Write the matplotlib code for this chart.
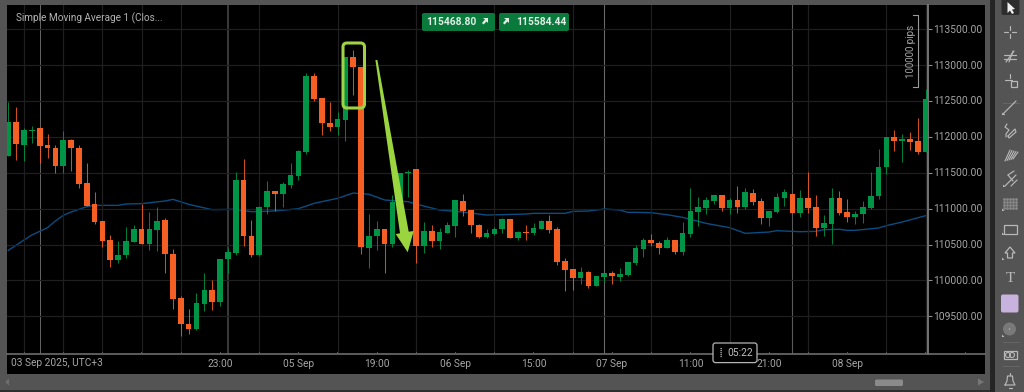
import matplotlib
matplotlib.use("Agg")
import matplotlib.pyplot as plt
from matplotlib.patches import FancyBboxPatch, Rectangle, Polygon, Circle
from matplotlib.ticker import FixedLocator, FixedFormatter
from matplotlib.transforms import ScaledTranslation

plt.rcParams['font.family'] = ['Roboto', 'DejaVu Sans']

opens = [111740,112205,111889,112084,112126,111884,111852,111601,111958,111852,
         111359,111061,110834,110559,110290,110355,110541,110713,110504,110704,
         110843,110374,109751,109397,109323,109676,109867,109695,110304,110383,
         111401,110625,110355,111024,111247,111210,111336,111461,111796,112851,
         112539,112191,112140,112237,113111,112981,110457,110615,110722,110503,
         111094,111498,111554,110480,110689,110550,110666,110759,111108,110982,
         110778,110610,110647,110712,110852,110592,110680,110666,110722,110829,
         110712,110271,110155,110034,110118,109922,110052,110108,110043,110076,
         110243,110443,110559,110522,110452,110559,110396,110648,110959,111010,
         111112,111191,111010,111117,111029,111224,111108,110866,110954,111154,
         111205,110936,111149,111019,110727,110792,111149,110950,110880,110922,
         111010,111173,111582,112005,111949,111972,111940,111796]
highs = [112493,112423,112130,112149,112126,112042,111884,112084,111968,111884,
         111633,111229,110834,110634,110545,110741,110769,111066,110950,111029,
         110876,110434,109783,109597,109825,110099,110011,110294,110448,111512,
         111689,110843,111038,111391,111247,111377,111633,111819,112888,112888,
         112539,112488,112344,113111,113213,112981,110922,110829,110722,111191,
         111503,111540,111554,110819,110768,110731,110819,111117,111205,110982,
         110782,110722,110750,110875,110852,110694,110773,110796,110843,110908,
         110740,110308,110164,110183,110127,110062,110108,110136,110173,110262,
         110494,110592,110648,110545,110601,110559,110819,111289,111159,111159,
         111191,111191,111145,111317,111284,111270,111145,110968,111215,111270,
         111205,111261,111512,111191,110908,111289,111247,111131,110968,111108,
         111512,111828,112005,112098,112042,112070,112265,112669]
lows = [111740,111680,111666,111917,111633,111712,111494,111494,111526,111285,
        111038,110792,110462,110188,110248,110308,110541,110504,110420,110406,
        110099,109597,109225,109253,109314,109579,109588,109644,110099,110360,
        110485,110332,110346,110931,110973,111024,111294,111396,111768,112502,
        112028,112084,112028,111949,112586,110369,110173,110424,110099,110462,
        111052,111168,110248,110382,110466,110438,110657,110610,110898,110666,
        110596,110592,110638,110666,110592,110568,110559,110638,110712,110657,
        110220,109848,109867,109946,109890,109922,109983,109950,109997,110066,
        110210,110331,110485,110373,110447,110369,110355,110606,110759,110931,
        111066,110964,110931,110945,111001,111057,110792,110759,110945,111043,
        110945,110889,110945,110624,110620,110508,110912,110815,110792,110806,
        110996,111140,111484,111810,111656,111819,111768,111786]
closes = [112205,111898,112093,112103,111879,111842,111601,111958,111842,111350,
          111038,110810,110550,110290,110360,110545,110713,110504,110713,110829,
          110364,109741,109397,109323,109686,109867,109695,110294,110397,111401,
          110615,110355,111029,111247,111210,111345,111466,111805,112851,112530,
          112196,112135,112247,113111,112971,110471,110624,110712,110503,111094,
          111503,111517,110480,110689,110545,110680,110768,111117,110973,110768,
          110610,110657,110722,110852,110592,110680,110666,110731,110829,110703,
          110262,110145,110034,110118,109922,110062,110108,110057,110085,110252,
          110452,110559,110517,110452,110559,110396,110657,110964,111019,111117,
          111191,111010,111117,111029,111229,111098,110866,110964,111159,111233,
          110945,111149,111010,110727,110801,111149,110940,110880,110931,111019,
          111182,111586,112005,111940,111968,111935,111796,112530]

sma_idx = [0,2,3,5,6,7,8,10,11,14,15,17,20,21,23,26,29,31,33,35,37,39,40,42,
           43,44,45,46,48,51,52,54,55,58,61,66,67,71,72,74,76,78,79,80,
           82,84,86,89,92,94,97,98,101,103,104,106,107,108,111,112,114,117]
sma_val = [110420,110564,110634,110736,110829,110908,110954,111029,111047,111047,111066,111071,
           111108,111131,111061,110987,110992,110959,110964,110978,111001,111075,111099,111145,
           111182,111219,111210,111201,111122,111098,111066,111010,110982,110954,110912,110926,
           110936,110936,110963,110968,110996,110982,110950,110950,110945,110917,110880,110796,
           110736,110657,110675,110694,110680,110685,110708,110713,110699,110699,110731,110764,
           110815,110903]

price_ticks = [109500,110000,110500,111000,111500,112000,112500,113000,113500]
price_labels = ['109500.00','110000.00','110500.00','111000.00','111500.00',
                '112000.00','112500.00','113000.00','113500.00']
time_ticks = [27,37,47,57,67,77,87,97,107]
time_labels = ['23:00','05 Sep','19:00','06 Sep','15:00','07 Sep','11:00','21:00','08 Sep']
grid_ticks = [2,7,12,17,22,27,32,37,42,47,52,57,62,67,72,77,82,87,92,97,102,107,112,117]
day_lines = [4,28,52,76,100]
first_label = '03 Sep 2025, UTC+3'
legend_text = 'Simple Moving Average 1 (Clos...'
bid_text = '115468.80'
ask_text = '115584.44'
range_text = '100000 pips'
timer_text = '05:22'

W, H = 1024, 392
UP, DOWN = '#009447', '#f55f24'
TXT = '#a6a6a6'
LIME = '#9fd244'

fig = plt.figure(figsize=(W/100, H/100), dpi=100, facecolor='#545454')

def px_axes(z):
    a = fig.add_axes([0, 0, 1, 1], zorder=z)
    a.set_xlim(0, W); a.set_ylim(H, 0); a.axis('off')
    a.patch.set_alpha(0)
    return a

bg = px_axes(0)
bg.add_patch(Rectangle((7, 5), 978, 369, fc='black', ec='none'))
bg.add_patch(Rectangle((990, 0), 5, H, fc='#252525', ec='none'))
bg.add_patch(Rectangle((0, 389.5), 990, 3, fc='#2e2e2e', ec='none'))

# price chart
L, R, T, B = 7, 928, 5, 354
ax = fig.add_axes([L/W, 1-B/H, (R-L)/W, (B-T)/H], zorder=1)
ax.set_facecolor('black')
x0, dx = 8.33, 7.84
ax.set_xlim((L-x0)/dx, (R-x0)/dx)
ax.set_ylim(113074-13.944*(B-60), 113074-13.944*(T-60))

ax.yaxis.tick_right()
ax.set_yticks(price_ticks, price_labels)
ax.xaxis.set_major_locator(FixedLocator(time_ticks))
ax.xaxis.set_major_formatter(FixedFormatter(time_labels))
ax.xaxis.set_minor_locator(FixedLocator(grid_ticks))
ax.tick_params(axis='y', length=3, width=0.8, color='#8a8a8a', labelcolor=TXT, labelsize=7.35, pad=0.8)
ax.tick_params(axis='x', which='major', length=0, labelcolor=TXT, labelsize=7.3, pad=3.5)
ax.tick_params(axis='x', which='minor', length=0)
for lab in ax.get_yticklabels():
    lab.set_transform(lab.get_transform() + ScaledTranslation(0, 0.8/100, fig.dpi_scale_trans))
for s in ('top', 'left'):
    ax.spines[s].set_visible(False)
ax.spines['right'].set_color('#7d7d7d'); ax.spines['right'].set_linewidth(1.3)
ax.spines['bottom'].set_color('#6d6d6d'); ax.spines['bottom'].set_linewidth(1.2)
ax.grid(True, axis='y', color='#1f1f1f', lw=0.9, zorder=0)
ax.grid(True, axis='x', which='minor', color='#1f1f1f', lw=0.9, zorder=0)
for d, c, w in zip(day_lines, ['#666666', '#444444', '#4a4a4a', '#686868', '#5a5a5a'], [0.7, 1.2, 0.7, 0.8, 0.8]):
    ax.axvline(d, color=c, lw=w, zorder=0.5)

ax.plot(sma_idx, sma_val, color='#0b4c82', lw=1.0, zorder=1.5, solid_joinstyle='round')
for i, (o, h, l, c) in enumerate(zip(opens, highs, lows, closes)):
    col = UP if c >= o else DOWN
    ax.plot([i, i], [l, h], color=col, lw=0.75, zorder=2, solid_capstyle='butt', alpha=0.85)
    ax.bar(i, abs(c-o), bottom=min(o, c), width=0.72, color=col, linewidth=0, zorder=3)

# overlay: drawn annotations and interface
fg = px_axes(4)
fg.plot([928, 985], [354, 354], color='#6d6d6d', lw=1.2)
for tx in [23.7+39.2*k for k in range(25)]:
    fg.plot([tx, tx], [351.5, 354], color='#5a5a5a', lw=0.7)
fg.text(11, 363, first_label, color=TXT, fontsize=7.3, ha='left', va='center')
fg.text(16, 18, legend_text, color='#b4b4b4', fontsize=7.2, ha='left', va='center')

# green annotation box and arrow
fg.add_patch(FancyBboxPatch((345, 45), 17.5, 61, boxstyle='round,pad=2,rounding_size=4',
                            fc='none', ec=LIME, lw=2.2, zorder=5))
fg.add_patch(Polygon([(375.4, 60), (377.4, 60), (408.7, 231.7), (413.7, 231), (407.7, 252.3),
                      (395.7, 234), (400, 233.3)], closed=True, fc='#9ad43e', ec='none', zorder=5))

# top badges
def arrow_icon(ox, oy):
    fg.add_patch(Polygon([(ox+2, oy-4), (ox+7, oy-4), (ox+7, oy+1), (ox+5.5, oy-0.5), (ox+2.5, oy+2.5),
                          (ox+1, oy+1), (ox+4, oy-2.5)], fc='#dfeee5', ec='none', zorder=6))
for x, w, t, tx, ix in [(422, 73, bid_text, 426, 481), (499, 70, ask_text, 516, 502)]:
    fg.add_patch(FancyBboxPatch((x+2, 15), w-4, 14, boxstyle='round,pad=2,rounding_size=2',
                                fc='#0a7a3c', ec='none'))
    fg.text(tx, 21.6, t, color='#dfeee5', fontsize=7.4, fontweight='bold', ha='left', va='center')
    arrow_icon(ix, 22)

# pips range bracket
fg.plot([913, 918.3, 918.3, 913], [15.3, 15.3, 86.7, 86.7], color='#9a9a9a', lw=0.8)
fg.text(911, 51, range_text, color=TXT, fontsize=7.0, rotation=90, ha='center', va='center')

# timer badge
fg.add_patch(FancyBboxPatch((715, 345), 40, 15.6, boxstyle='round,pad=2,rounding_size=2.5',
                            fc='black', ec='#b5b5b5', lw=0.9, zorder=6))
for gy in range(348, 358, 2):
    fg.plot([719.5, 722], [gy, gy], color='#c0c0c0', lw=0.9, ls=(0, (1, 0.8)), zorder=7)
fg.text(727, 352.5, timer_text, color='#bdbdbd', fontsize=7.4, ha='left', va='center', zorder=7)

# scroll bar
fg.add_patch(FancyBboxPatch((876, 380.5), 26, 4.5, boxstyle='round,pad=1,rounding_size=1.5',
                            fc='#8b8b8b', ec='none'))
fg.add_patch(Polygon([(978, 378.5), (978, 385.5), (984, 382)], fc='#777777', ec='none'))
fg.add_patch(Polygon([(9, 378.5), (9, 385.5), (5, 382)], fc='#6d6d6d', ec='none'))

# tool bar
IC = '#b8b8b8'
def ln(xs, ys, c=IC, w=0.85):
    fg.plot(xs, ys, color=c, lw=w, solid_capstyle='round')
cx = 1010
fg.add_patch(FancyBboxPatch((1003, 0), 15, 13.5, boxstyle='round,pad=1.5,rounding_size=2', fc='#2d2d2d', ec='none'))
fg.add_patch(Polygon([(1007.5, 2), (1007.5, 13), (1010, 10.5), (1012, 14), (1014, 13), (1012, 9.5), (1015, 9)],
                     fc='#f0f0f0', ec='none'))
ln([1004, 1008], [32, 32]); ln([1012, 1016], [32, 32]); ln([cx, cx], [26, 30]); ln([cx, cx], [34, 38])
ln([1004, 1016], [54.5, 54.5]); ln([1004, 1016], [58.5, 58.5]); ln([1006, 1014], [62, 51]); ln([1009, 1013], [62, 51])
ln([1005, 1012], [80, 80]); ln([1010, 1010], [74, 78])
fg.add_patch(Rectangle((1011, 81), 6, 5.5, fc='none', ec=IC, lw=0.9))
ln([1003, 1019], [103, 103], '#666666', 0.7)
ln([1003, 1016], [114, 101]); ln([1002, 1004], [114, 114])
ln([1007, 1005, 1009, 1006, 1006], [124, 127, 130, 134, 137]); ln([1008, 1015, 1016, 1009, 1008], [136, 129, 132, 138, 136])
for k in range(5):
    ln([1005+2*k, 1010+2*k], [161-k*0.5, 150+k*0.5], w=0.8)
ln([1005, 1016], [186, 175]); ln([1008, 1014], [175, 171]); ln([1011, 1017], [186, 180]); ln([1008, 1013], [175, 181])
for gx in range(1004, 1018, 3):
    for gy in range(199, 211, 3):
        fg.plot([gx], [gy], 's', ms=0.9, color='#8a8a8a')
fg.add_patch(Rectangle((1003.5, 225), 13, 8.5, fc='none', ec=IC, lw=0.9))
fg.add_patch(Polygon([(1010, 247), (1015, 253), (1012.5, 253), (1012.5, 258), (1007.5, 258), (1007.5, 253), (1005, 253)],
                     fc='none', ec=IC, lw=0.9))
fg.text(cx, 278, 'T', color=IC, fontsize=11, ha='center', va='center', family='Liberation Serif')
fg.add_patch(FancyBboxPatch((1002.5, 296), 14.5, 15, boxstyle='round,pad=1.5,rounding_size=2', fc='#c8b3de', ec='none'))
fg.add_patch(Circle((1009.5, 329), 6.5, fc='#797979', ec='none'))
fg.add_patch(Circle((1009.5, 329), 0.7, fc='#bbbbbb', ec='none'))
ln([1003, 1019], [342, 342], '#666666', 0.7)
fg.add_patch(Rectangle((1003.5, 351), 13, 8, fc='none', ec=IC, lw=0.9))
fg.add_patch(Circle((1008, 355), 2.5, fc='none', ec=IC, lw=0.8))
fg.add_patch(Circle((1012, 355), 2.5, fc='none', ec=IC, lw=0.8))
ln([1003, 1019], [366, 366], '#666666', 0.7)
ln([1005, 1007, 1007.5, 1012.5, 1013, 1015, 1005], [385, 381, 376, 376, 381, 385, 385])
ln([1008.5, 1011.5], [387.5, 387.5]); ln([cx, cx], [373, 375])
for (tx, ty) in [(1002, 211), (1002, 235), (1002, 260), (1002, 337), (1002, 115), (1003, 187)]:
    fg.add_patch(Polygon([(tx, ty), (tx+2.5, ty), (tx, ty-2.5)], fc='#bbbbbb', ec='none'))

fig.savefig('out.png', dpi=100, facecolor=fig.get_facecolor())
